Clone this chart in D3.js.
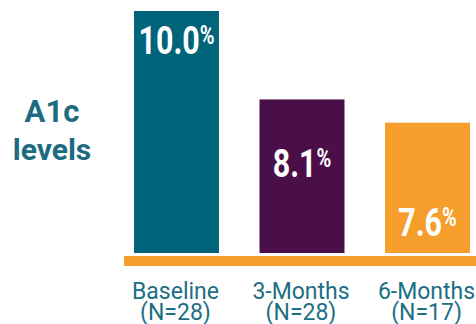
<!DOCTYPE html>
<html lang="en">
<head>
<meta charset="UTF-8">
<title>A1c levels</title>
<script src="https://d3js.org/d3.v7.min.js"></script>
<style>
    body { margin: 0; background: #fff; }
    svg { display: block; }
    .cat { font-family: Roboto, sans-serif; font-size: 23px; fill: #1c6f84; }
    .title { font-family: Roboto, sans-serif; font-weight: bold; fill: #1c6b7e; }
    .val { font-family: Roboto, sans-serif; font-weight: bold; fill: #fff; }
</style>
</head>
<body>
<svg id="chart" width="476" height="324"></svg>
<script>
    const categories = ["Baseline", "3-Months", "6-Months"];
    const counts = ["(N=28)", "(N=28)", "(N=17)"];
    const values = [10.0, 8.1, 7.6];
    const colors = ["#00647a", "#4a0f48", "#f59e2b"];

    const width = 476, height = 324;
    const svg = d3.select("#chart");

    const x = d3.scaleBand()
        .domain(categories)
        .range([134, 470])
        .paddingInner(0.323)
        .paddingOuter(0);

    const y = d3.scaleLinear()
        .domain([4.8, 10])
        .range([253, 11]);

    // bars
    svg.selectAll(".bar")
        .data(values)
        .enter().append("rect")
        .attr("class", "bar")
        .attr("x", (d, i) => x(categories[i]))
        .attr("y", d => y(d))
        .attr("width", x.bandwidth())
        .attr("height", d => y.range()[0] - y(d))
        .attr("fill", (d, i) => colors[i]);

    // orange base strip
    svg.append("rect")
        .attr("x", 124)
        .attr("y", 256)
        .attr("width", width - 124)
        .attr("height", 10)
        .attr("fill", "#f59e2b");

    // value labels (condensed look via scaleX)
    const vals = svg.selectAll(".val")
        .data(values)
        .enter().append("text")
        .attr("class", "val")
        .attr("text-anchor", "middle")
        .attr("font-size", 38)
        .attr("transform", (d, i) => {
            let cx = x(categories[i]) + x.bandwidth() / 2;
            let cy = y(d) + 43 + 35 * i;
            return `translate(${cx},${cy}) scale(0.8,1)`;
        })
        .text(d => d.toFixed(1));

    vals.append("tspan")
        .attr("font-size", 25)
        .attr("dy", -10)
        .text("%");

    // category labels
    const cats = svg.selectAll(".cat")
        .data(categories)
        .enter().append("text")
        .attr("class", "cat")
        .attr("text-anchor", "middle")
        .attr("x", d => x(d) + x.bandwidth() / 2 - 1)
        .attr("y", 299);

    cats.append("tspan")
        .attr("x", d => x(d) + x.bandwidth() / 2 - 1)
        .text(d => d);
    cats.append("tspan")
        .attr("x", d => x(d) + x.bandwidth() / 2 - 1)
        .attr("dy", 21)
        .text((d, i) => counts[i]);

    // side title
    svg.append("text")
        .attr("class", "title")
        .attr("text-anchor", "middle")
        .attr("x", 52).attr("y", 122)
        .attr("font-size", 31)
        .text("A1c");
    svg.append("text")
        .attr("class", "title")
        .attr("text-anchor", "middle")
        .attr("x", 52).attr("y", 160)
        .attr("font-size", 30)
        .text("levels");
</script>
</body>
</html>
